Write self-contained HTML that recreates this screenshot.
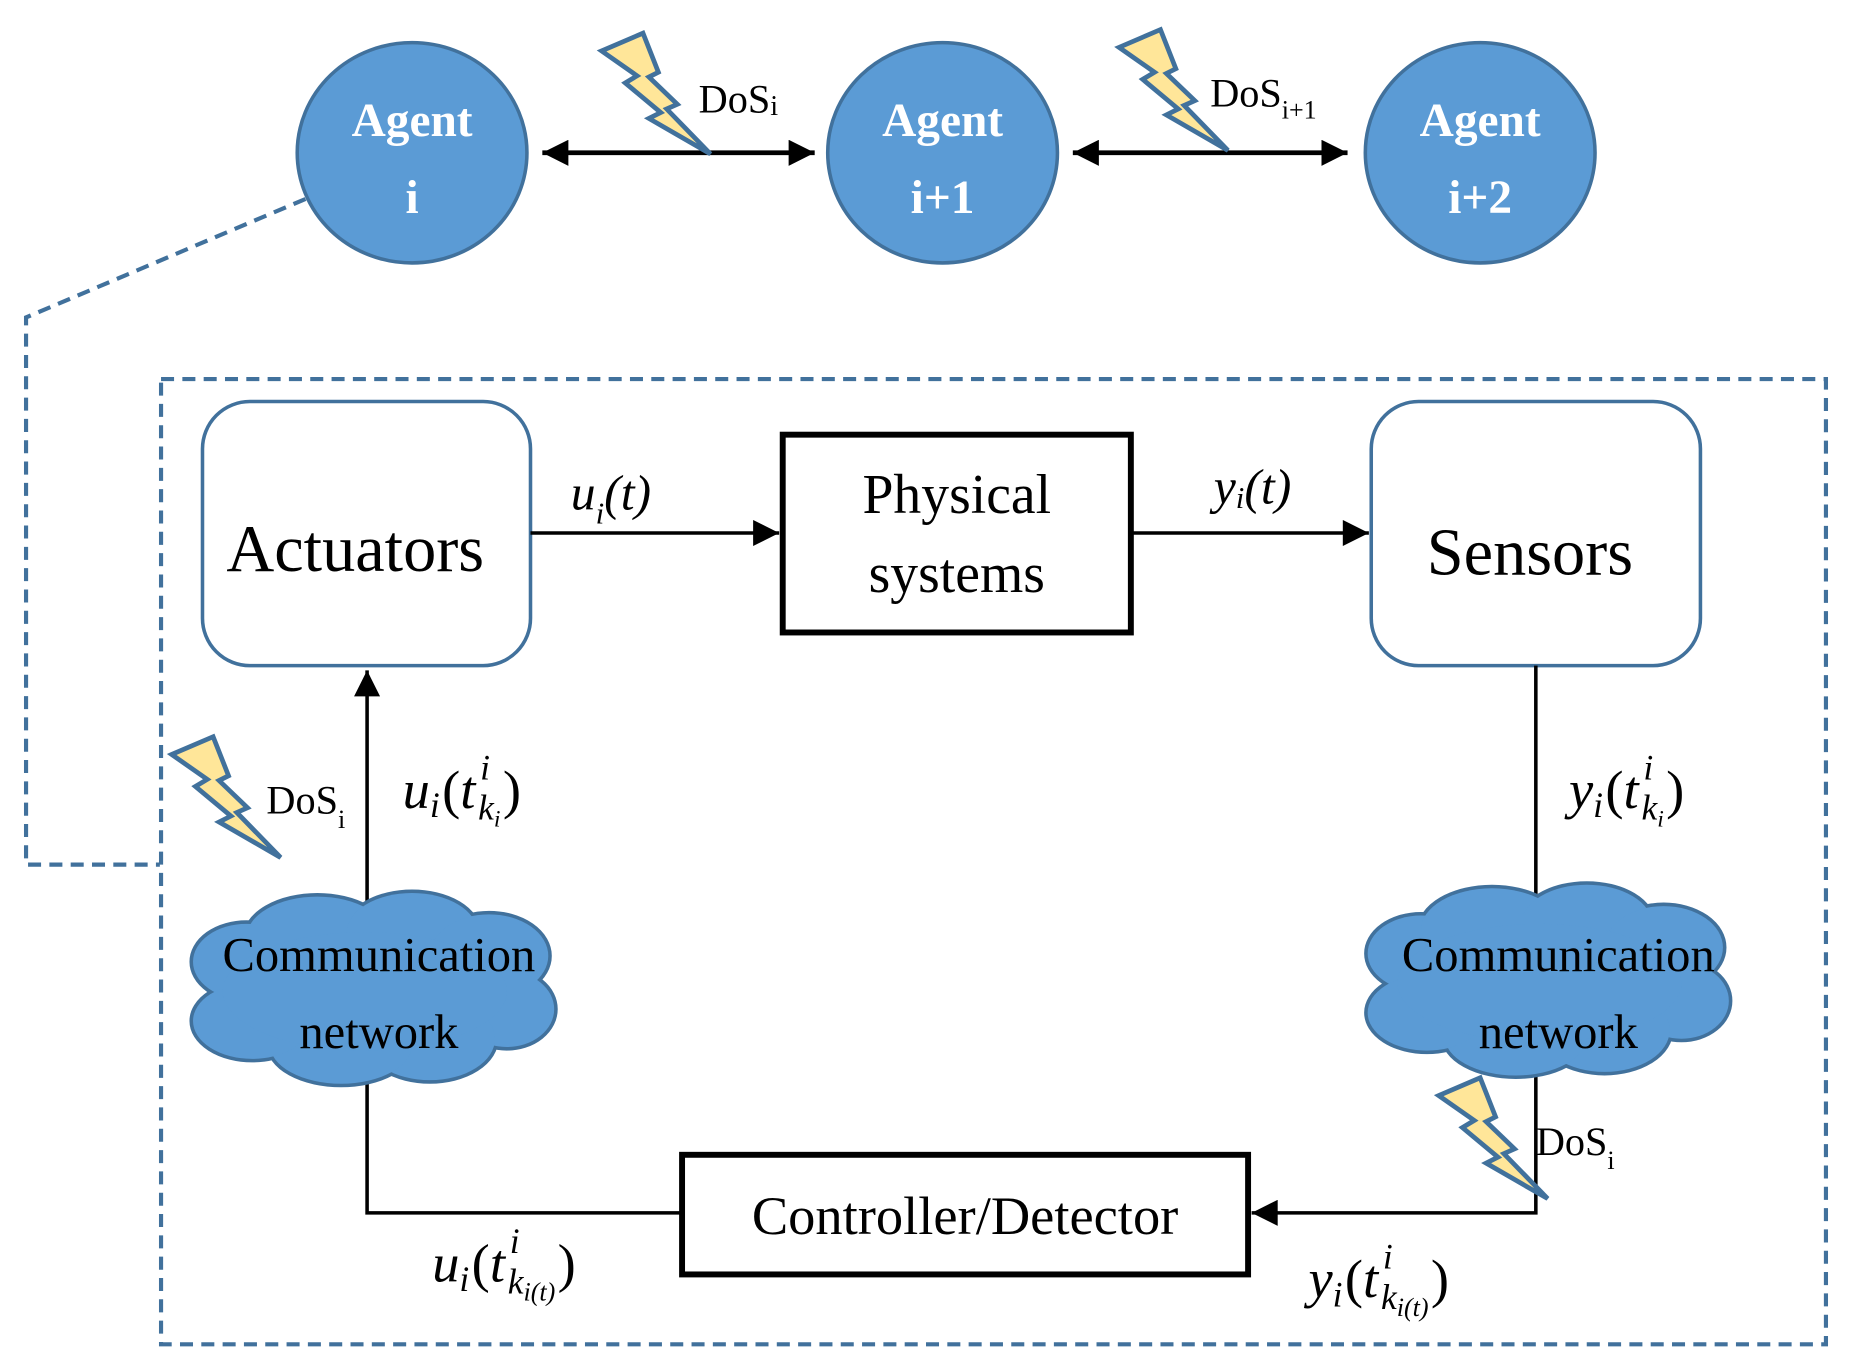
<!DOCTYPE html>
<html><head><meta charset="utf-8"><style>
html,body{margin:0;padding:0;background:#fff;}
svg{display:block;}
text{font-family:"Liberation Serif",serif;}
</style></head><body>
<svg width="1852" height="1368" viewBox="0 0 1564 1155" preserveAspectRatio="none" xmlns="http://www.w3.org/2000/svg">
<defs>
<marker id="a2" viewBox="0 0 10 10" markerWidth="24" markerHeight="22" refX="10" refY="5" orient="auto-start-reverse" markerUnits="userSpaceOnUse"><path d="M0,0 L10,5 L0,10 z" fill="#000"/></marker>
<g id="bolt"><polygon points="0,15 35,0 48,33 40,37 64,60 55,64 92,102 40,72 50,67 20,42 30,36" fill="#ffe699" stroke="#41719c" stroke-width="4" stroke-linejoin="miter"/></g>
<g id="cloudS">
<ellipse cx="60" cy="60" rx="45" ry="32"/><ellipse cx="120" cy="40" rx="60" ry="35"/><ellipse cx="200" cy="35" rx="55" ry="33"/><ellipse cx="265" cy="55" rx="50" ry="35"/><ellipse cx="280" cy="100" rx="40" ry="32"/><ellipse cx="215" cy="125" rx="55" ry="35"/><ellipse cx="140" cy="130" rx="60" ry="33"/><ellipse cx="65" cy="110" rx="50" ry="32"/><ellipse cx="160" cy="85" rx="120" ry="50"/>
</g>
</defs>
<g fill="none" stroke="#41719c" stroke-width="3.5" stroke-dasharray="11,7">
<polyline points="258,168 22,268 22,730 135,730"/>
<rect x="136" y="320" width="1406" height="815"/>
</g>
<g fill="#5b9bd5" stroke="#41719c" stroke-width="3">
<ellipse cx="348" cy="129" rx="97" ry="93"/>
<ellipse cx="796" cy="129" rx="97" ry="93"/>
<ellipse cx="1250" cy="129" rx="97" ry="93"/>
</g>
<g fill="#fff" font-weight="bold" font-size="40" text-anchor="middle">
<text x="348" y="115">Agent</text><text x="348" y="180">i</text>
<text x="796" y="115">Agent</text><text x="796" y="180">i+1</text>
<text x="1250" y="115">Agent</text><text x="1250" y="180">i+2</text>
</g>
<g stroke="#000" stroke-width="4" fill="none">
<line x1="458" y1="129" x2="688" y2="129" marker-start="url(#a2)" marker-end="url(#a2)"/>
<line x1="906" y1="129" x2="1138" y2="129" marker-start="url(#a2)" marker-end="url(#a2)"/>
</g>
<use href="#bolt" x="508" y="28"/>
<use href="#bolt" x="945" y="25"/>
<text x="590" y="95" font-size="34">DoS<tspan font-size="24" dy="2">i</tspan></text>
<text x="1022" y="90" font-size="34">DoS<tspan font-size="22" dy="10">i+1</tspan></text>
<rect x="171" y="339" width="277" height="223" rx="40" fill="#fff" stroke="#41719c" stroke-width="3"/>
<rect x="1158" y="339" width="278" height="223" rx="40" fill="#fff" stroke="#41719c" stroke-width="3"/>
<rect x="661" y="367" width="294" height="167" fill="#fff" stroke="#000" stroke-width="5"/>
<rect x="576" y="975" width="478" height="101" fill="#fff" stroke="#000" stroke-width="5"/>
<text x="300" y="482" font-size="56" text-anchor="middle">Actuators</text>
<text x="1292" y="485" font-size="56" text-anchor="middle">Sensors</text>
<text x="808" y="433" font-size="47" text-anchor="middle">Physical</text>
<text x="808" y="500" font-size="47" text-anchor="middle">systems</text>
<text x="815" y="1042" font-size="46" text-anchor="middle">Controller/Detector</text>
<g stroke="#000" stroke-width="3" fill="none">
<line x1="448" y1="450" x2="658" y2="450" marker-end="url(#a2)"/>
<line x1="955" y1="450" x2="1156" y2="450" marker-end="url(#a2)"/>
<line x1="310" y1="765" x2="310" y2="566" marker-end="url(#a2)"/>
<polyline points="576,1024 310,1024 310,910"/>
<line x1="1297" y1="562" x2="1297" y2="760"/>
<polyline points="1297,905 1297,1024 1057,1024" marker-end="url(#a2)"/>
</g>
<text x="482" y="430" font-size="42" font-style="italic">u<tspan font-size="26" dy="12">i</tspan><tspan dy="-12">(t)</tspan></text>
<text x="1025" y="425" font-size="42" font-style="italic">y<tspan font-size="26" dy="4">i</tspan><tspan dy="-4">(t)</tspan></text>
<g transform="translate(148,752)">
<use href="#cloudS" fill="none" stroke="#41719c" stroke-width="6"/>
<use href="#cloudS" fill="#5b9bd5" stroke="none"/>
</g>
<g transform="translate(1140,745)">
<use href="#cloudS" fill="none" stroke="#41719c" stroke-width="6"/>
<use href="#cloudS" fill="#5b9bd5" stroke="none"/>
</g>
<g font-size="41" text-anchor="middle" fill="#000">
<text x="320" y="820">Communication</text><text x="320" y="885">network</text>
<text x="1316" y="820">Communication</text><text x="1316" y="885">network</text>
</g>
<use href="#bolt" x="145" y="622"/>
<use href="#bolt" x="1215" y="910"/>
<text x="225" y="687" font-size="34">DoS<tspan font-size="22" dy="12">i</tspan></text>
<text x="1297" y="975" font-size="34">DoS<tspan font-size="22" dy="12">i</tspan></text>
<g font-family="'DejaVu Serif',serif" font-style="italic">
<text x="340" y="682" font-size="46">u<tspan font-size="30" dy="8">i</tspan><tspan dy="-8" dx="2" font-style="normal">(</tspan>t<tspan font-size="30" dx="4" dy="-24">i</tspan><tspan font-size="30" dx="-10" dy="34">k</tspan><tspan font-size="20" dy="6">i</tspan><tspan font-style="normal" dx="2" dy="-16">)</tspan></text>
<text x="1325" y="682" font-size="46">y<tspan font-size="30" dy="8">i</tspan><tspan dy="-8" dx="2" font-style="normal">(</tspan>t<tspan font-size="30" dx="4" dy="-24">i</tspan><tspan font-size="30" dx="-10" dy="34">k</tspan><tspan font-size="20" dy="6">i</tspan><tspan font-style="normal" dx="2" dy="-16">)</tspan></text>
<text x="365" y="1082" font-size="46">u<tspan font-size="30" dy="8">i</tspan><tspan dy="-8" dx="2" font-style="normal">(</tspan>t<tspan font-size="30" dx="4" dy="-24">i</tspan><tspan font-size="30" dx="-10" dy="34">k</tspan><tspan font-size="22" dy="6">i(t)</tspan><tspan font-style="normal" dx="2" dy="-16">)</tspan></text>
<text x="1105" y="1095" font-size="46">y<tspan font-size="30" dy="8">i</tspan><tspan dy="-8" dx="2" font-style="normal">(</tspan>t<tspan font-size="30" dx="4" dy="-24">i</tspan><tspan font-size="30" dx="-10" dy="34">k</tspan><tspan font-size="22" dy="6">i(t)</tspan><tspan font-style="normal" dx="2" dy="-16">)</tspan></text>
</g>
</svg>
</body></html>
